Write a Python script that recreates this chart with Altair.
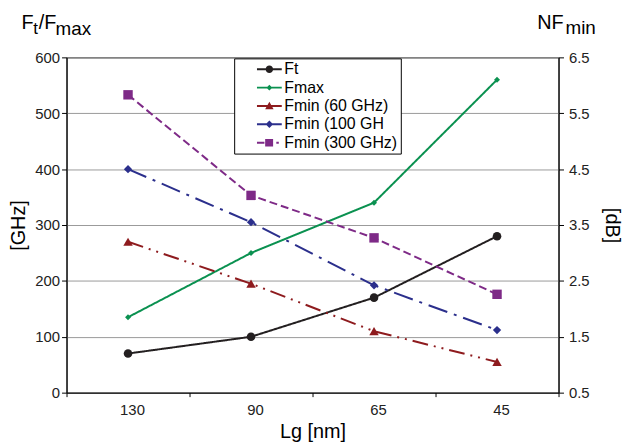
import altair as alt
import pandas as pd

# ---- data ----
lg = ["130", "90", "65", "45"]
ft = [70, 100, 170, 280]
fmax = [135, 250, 340, 560]
fmin60 = [3.2, 2.45, 1.6, 1.05]
fmin100 = [4.5, 3.55, 2.42, 1.62]
fmin300 = [5.83, 4.03, 3.27, 2.26]

series_names = ["Ft", "Fmax", "Fmin (60 GHz)", "Fmin (100 GH", "Fmin (300 GHz)"]
colors = ["#231f20", "#0a9150", "#8e1b1e", "#2b2f8c", "#7e2a87"]
dashes = [[1, 0], [1, 0], [16, 6, 2, 6, 2, 6], [20, 7, 3, 7], [8, 4]]
markers = ["circle", "diamond", "triangle-up", "diamond", "square"]
msizes = [75, 36, 90, 70, 90]

# legend symbols: line segment + marker (unit = 5 px)
LINE = "M-2.5,-0.2H2.5V0.2H-2.5Z"
legend_paths = [
    LINE + " M-0.75,0A0.75,0.75 0 1,1 0.75,0A0.75,0.75 0 1,1 -0.75,0Z",
    LINE + " M0,-0.6L0.6,0L0,0.6L-0.6,0Z",
    LINE + " M0,-0.85L0.85,0.65L-0.85,0.65Z",
    LINE + " M0,-0.75L0.75,0L0,0.75L-0.75,0Z",
    "M-2.5,-0.2H-1.0V0.2H-2.5Z M-0.85,-0.75H0.75V0.75H-0.85Z M1.4,-0.2H1.9V0.2H1.4Z",
]

rows = []
for name, vals, side in [
    (series_names[0], ft, "L"),
    (series_names[1], fmax, "L"),
    (series_names[2], fmin60, "R"),
    (series_names[3], fmin100, "R"),
    (series_names[4], fmin300, "R"),
]:
    i = series_names.index(name)
    for c, v in zip(lg, vals):
        rows.append({"Lg": c, "value": v, "series": name, "side": side,
                     "marker": markers[i], "msize": msizes[i]})
df = pd.DataFrame(rows)

FONT = "Liberation Sans"

x_enc = alt.X(
    "Lg:N", sort=lg,
    scale=alt.Scale(type="band", paddingInner=0, paddingOuter=0),
    axis=alt.Axis(title="Lg [nm]", labelAngle=0, tickBand="extent", grid=False,
                  domainColor="black", tickColor="black", tickSize=4,
                  labelFontSize=15, labelColor="#222", labelPadding=6, labelOffset=4,
                  titleFontSize=20, titleFontWeight="normal", titleColor="black",
                  titlePadding=4),
)

color_scale = alt.Scale(domain=series_names, range=colors)
color_enc = alt.Color("series:N", scale=color_scale, legend=alt.Legend(title=None))
dash_enc = alt.StrokeDash("series:N", scale=alt.Scale(domain=series_names, range=dashes), legend=None)

left_y = alt.Y(
    "value:Q",
    scale=alt.Scale(domain=[0, 600], nice=False, zero=False),
    axis=alt.Axis(title="[GHz]", orient="left", values=[0, 100, 200, 300, 400, 500, 600],
                  grid=True, gridColor="#9a9a9a", gridWidth=1, domainColor="black",
                  tickColor="black", tickSize=5, labelFontSize=15, labelColor="#222",
                  labelPadding=2, titleFontSize=20, titleFontWeight="normal",
                  titleColor="black", titlePadding=6),
)
right_y = alt.Y(
    "value:Q",
    scale=alt.Scale(domain=[0.5, 6.5], nice=False, zero=False),
    axis=alt.Axis(title="[dB]", orient="right", values=[0.5, 1.5, 2.5, 3.5, 4.5, 5.5, 6.5],
                  format=".1f", grid=False, domainColor="black", tickColor="black",
                  tickSize=5, labelFontSize=15, labelColor="#222", labelPadding=5,
                  titleFontSize=20, titleFontWeight="normal", titleColor="black",
                  titlePadding=12),
)

base = alt.Chart(df)
left_data = base.transform_filter("datum.side == 'L'")
right_data = base.transform_filter("datum.side == 'R'")

legend_layer = base.transform_filter("false").mark_point(filled=True, opacity=1).encode(
    x=x_enc, y=left_y,
    color=color_enc,
    shape=alt.Shape("series:N", scale=alt.Scale(domain=series_names, range=legend_paths),
                    legend=alt.Legend(title=None)),
)

line_L = left_data.mark_line(strokeWidth=2).encode(x=x_enc, y=left_y, color=color_enc, strokeDash=dash_enc, detail="series:N")
pt_L = left_data.mark_point(filled=True, opacity=1).encode(
    x=x_enc, y=left_y, color=color_enc,
    shape=alt.Shape("marker:N", scale=None),
    size=alt.Size("msize:Q", scale=None))

line_R = right_data.mark_line(strokeWidth=2).encode(x=x_enc, y=right_y, color=color_enc, strokeDash=dash_enc, detail="series:N")
pt_R = right_data.mark_point(filled=True, opacity=1).encode(
    x=x_enc, y=right_y, color=color_enc,
    shape=alt.Shape("marker:N", scale=None),
    size=alt.Size("msize:Q", scale=None))

left = alt.layer(legend_layer, line_L, pt_L)
right = alt.layer(line_R, pt_R)

one = alt.Chart(pd.DataFrame({"a": [0]}))


def txt(s, x, y, size):
    return one.mark_text(text=s, align="left", baseline="alphabetic", fontSize=size,
                         font=FONT, color="black").encode(x=alt.value(x), y=alt.value(y))


titles = [
    txt("F", -45.5, -29, 20),
    txt("t", -33.5, -24, 17),
    txt("/F", -28, -29, 20),
    txt("max", -11, -23, 19),
    txt("NF", 474.5, -29, 20),
    txt("min", 503, -24, 19),
]

chart = alt.layer(left, right, *titles).resolve_scale(y="independent").properties(
    width=496, height=338,
    autosize=alt.AutoSizeParams(type="none"),
    padding={"left": 59, "top": 48, "right": 66, "bottom": 52},
).configure(font=FONT).configure_view(stroke="black", strokeWidth=1).configure_legend(
    orient="none", legendX=169, legendY=1, fillColor="white", strokeColor="black",
    strokeWidth=1, padding=3, rowPadding=2.5, labelFont=FONT, labelFontSize=16,
    labelColor="black", symbolOffset=24.5, labelOffset=7, symbolStrokeWidth=0,
    symbolOpacity=1, cornerRadius=0,
)

chart.save("out.html", embed_options={"renderer": "svg", "actions": False})
